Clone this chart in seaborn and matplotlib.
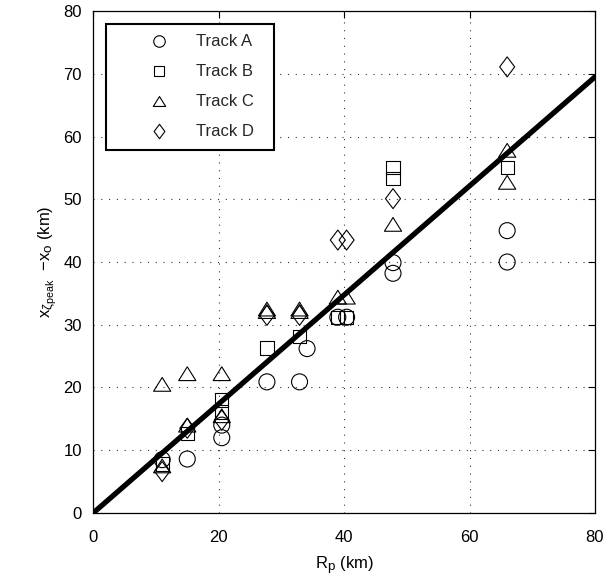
import matplotlib
matplotlib.use("Agg")
import matplotlib.pyplot as plt
import matplotlib._mathtext as _mt
from matplotlib.lines import Line2D
from matplotlib.path import Path
import seaborn as sns
import pandas as pd

# ---- data ----
track_a_x = [11, 15, 20.5, 20.5, 27.7, 32.9, 34.1, 39, 40.4, 47.8, 47.8, 66, 66]
track_a_y = [8.5, 8.6, 14.0, 12.0, 20.9, 20.9, 26.2, 31.2, 31.2, 39.9, 38.2, 45.0, 40.0]
track_b_x = [11, 15, 20.5, 20.5, 27.7, 32.9, 39, 40.4, 47.8, 47.8, 66]
track_b_y = [7.8, 12.7, 18.0, 16.1, 26.3, 28.1, 31.2, 31.2, 55.1, 53.3, 55.1]
track_c_x = [11, 11, 15, 15, 20.5, 20.5, 27.7, 27.7, 32.9, 32.9, 39, 40.4, 47.8, 66, 66]
track_c_y = [20.5, 7.5, 22.2, 14.0, 22.2, 15.5, 32.5, 32.1, 32.5, 32.1, 34.4, 34.4, 46.0, 57.8, 52.7]
track_d_x = [11, 15, 20.5, 27.7, 32.9, 39, 40.4, 47.8, 66]
track_d_y = [6.6, 13.5, 14.8, 31.5, 31.5, 43.5, 43.5, 50.1, 71.1]
fit_x = [0, 80]
fit_y = [0, 69.5]
track_labels = ["Track A", "Track B", "Track C", "Track D"]
x_ticks = [0, 20, 40, 60, 80]
y_ticks = [0, 10, 20, 30, 40, 50, 60, 70, 80]

sns.set_theme(style="white")
plt.rcParams["font.family"] = ["Liberation Sans", "DejaVu Sans"]
plt.rcParams["mathtext.fontset"] = "custom"
plt.rcParams["mathtext.rm"] = "Liberation Sans"
plt.rcParams["mathtext.it"] = "Liberation Sans"
plt.rcParams["mathtext.bf"] = "Liberation Sans:bold"
_mt.SHRINK_FACTOR = 0.8

fig = plt.figure(figsize=(6.09, 5.84), dpi=100)
ax = fig.add_axes([0.153, 0.1216, 0.824, 0.8595])

tri = Path([(-1, -0.8), (1, -0.8), (0, 0.8), (-1, -0.8)],
           [Path.MOVETO, Path.LINETO, Path.LINETO, Path.CLOSEPOLY])
dia = Path([(0, 1), (0.75, 0), (0, -1), (-0.75, 0), (0, 1)],
           [Path.MOVETO, Path.LINETO, Path.LINETO, Path.LINETO, Path.CLOSEPOLY])
markers = ["o", "s", tri, dia]
sizes = [11.5, 9.6, 12.4, 14.4]
xs = [track_a_x, track_b_x, track_c_x, track_d_x]
ys = [track_a_y, track_b_y, track_c_y, track_d_y]

sns.lineplot(x=fit_x, y=fit_y, color="black", linewidth=3.8, ax=ax, zorder=3)

for x, y, m, sz in zip(xs, ys, markers, sizes):
    df = pd.DataFrame({"x": x, "y": y})
    sns.scatterplot(data=df, x="x", y="y", marker=m, s=sz ** 2,
                    facecolor="none", edgecolor="black", linewidth=0.8,
                    ax=ax, zorder=4)

ax.set_xlim(0, 80)
ax.set_ylim(0, 80)
ax.set_xticks(x_ticks)
ax.set_yticks(y_ticks)
ax.tick_params(direction="in", length=5, width=0.8, top=True, right=True,
               labelsize=12, colors="black")
ax.tick_params(axis="x", pad=12)
ax.tick_params(axis="y", pad=8)
ax.grid(True, color="black", linestyle=(0, (1, 6)), linewidth=0.8, alpha=0.8)
for sp in ax.spines.values():
    sp.set_color("black")
    sp.set_linewidth(0.9)

ax.set_xlabel(r"$\mathregular{R_p}$ (km)", fontsize=12, color="black", labelpad=7)
ax.set_ylabel(r"$\mathregular{x_{\zeta_{peak}}}$  $\mathregular{-x_o}$ (km)",
              fontsize=12, color="black", labelpad=3)

handles = [Line2D([], [], linestyle="none", marker=m, markersize=sz * 0.72,
                  markerfacecolor="none", markeredgecolor="black",
                  markeredgewidth=0.8) for m, sz in zip(markers, sizes)]
leg = ax.legend(handles, [t + "  " for t in track_labels], loc="upper left",
                bbox_to_anchor=(0.026, 0.975), borderaxespad=0,
                fontsize=12, frameon=True, fancybox=False, framealpha=1,
                edgecolor="black", handlelength=5.0, handletextpad=-0.25,
                labelspacing=0.9, borderpad=0.65)
leg.get_frame().set_linewidth(1.5)

fig.savefig("out.png", dpi=100)
